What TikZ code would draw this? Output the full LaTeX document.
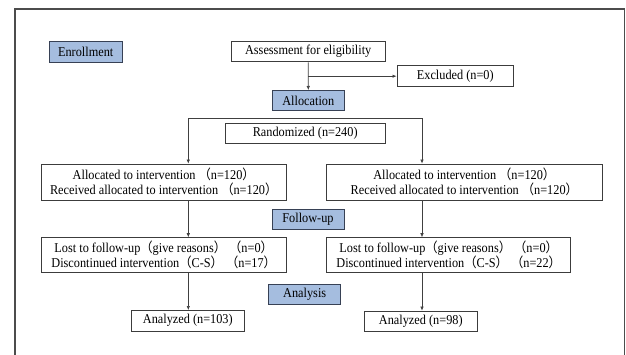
\documentclass[tikz,border=0pt]{standalone}
\usepackage{fontspec}
\setmainfont{Liberation Serif}[FakeStretch=0.91]
\newfontfamily\cjk{Noto Sans CJK SC}[FakeStretch=0.91]
\usetikzlibrary{arrows.meta}
\newcommand{\LPa}{{\cjk （}}
\newcommand{\RPa}{{\cjk ）}}
\definecolor{bluefill}{RGB}{165,189,223}
\definecolor{blueline}{RGB}{55,65,85}
\definecolor{boxline}{RGB}{60,60,60}
\tikzset{
  box/.style={draw=boxline, line width=0.9pt, fill=white, inner sep=0pt,
    minimum height=20.5pt, align=center, font=\fontsize{13.5}{15}\selectfont},
  stage/.style={box, fill=bluefill, draw=blueline},
  conn/.style={draw=black!75, line width=0.6pt},
  arr/.style={conn, -{Latex[length=4pt,width=3.5pt]}},
  frame/.style={draw=black!70, line width=1.6pt},
}
\begin{document}
\begin{tikzpicture}[x=1pt,y=-1pt]
\useasboundingbox (0,0) rectangle (626,355);
\fill[white] (0,0) rectangle (626,355);
\draw[frame] (14.7,355) -- (14.7,9.3) -- (624.5,9.3) -- (624.5,355);

\node[stage, minimum width=72.7pt] (enroll) at (85.7,52.2) {Enrollment};
\node[box, minimum width=154.3pt] (assess) at (308.2,51.7) {Assessment for eligibility};
\node[box, minimum width=116.7pt] (excl) at (455.3,76.2) {Excluded (n=0)};
\node[stage, minimum width=72.7pt] (alloc) at (308.3,100.7) {Allocation};
\node[box, minimum width=160.3pt] (rand) at (305.2,133.7) {Randomized (n=240)};
\node[box, minimum width=244.7pt, minimum height=36pt] (allocL) at (163.7,182)
  {Allocated to intervention \LPa n=120\RPa\\Received allocated to intervention \LPa n=120\RPa};
\node[box, minimum width=275.3pt, minimum height=36pt] (allocR) at (464.3,182)
  {Allocated to intervention \LPa n=120\RPa\\Received allocated to intervention \LPa n=120\RPa};
\node[stage, minimum width=72pt, minimum height=19.7pt] (follow) at (308,219.2) {Follow-up};
\node[box, minimum width=244.7pt, minimum height=35pt] (lostL) at (163.7,255.2)
  {Lost to follow-up\LPa give reasons\RPa\ \LPa n=0\RPa\\Discontinued intervention\LPa C-S\RPa\ \LPa n=17\RPa};
\node[box, minimum width=244pt, minimum height=35pt] (lostR) at (448.7,255.2)
  {Lost to follow-up\LPa give reasons\RPa\ \LPa n=0\RPa\\Discontinued intervention\LPa C-S\RPa\ \LPa n=22\RPa};
\node[stage, minimum width=72pt] (analysis) at (304.7,294.5) {Analysis};
\node[box, minimum width=113.7pt] (anaL) at (187.8,320.7) {Analyzed (n=103)};
\node[box, minimum width=113pt] (anaR) at (420.8,321.3) {Analyzed (n=98)};

\draw[arr] (assess.south) -- (alloc.north);
\coordinate (ex) at (assess.south |- excl.west);
\draw[arr] (ex) -- (excl.west);

\coordinate (bl) at (188.3,118.5);
\coordinate (br) at (422,118.5);
\draw[conn] (bl) -- (br);
\draw[arr] (bl) -- (bl |- allocL.north);
\draw[arr] (br) -- (br |- allocR.north);
\draw[arr] (bl |- allocL.south) -- (bl |- lostL.north);
\draw[arr] (br |- allocR.south) -- (br |- lostR.north);
\draw[arr] (bl |- lostL.south) -- (bl |- anaL.north);
\draw[arr] (br |- lostR.south) -- (br |- anaR.north);
\end{tikzpicture}
\end{document}
